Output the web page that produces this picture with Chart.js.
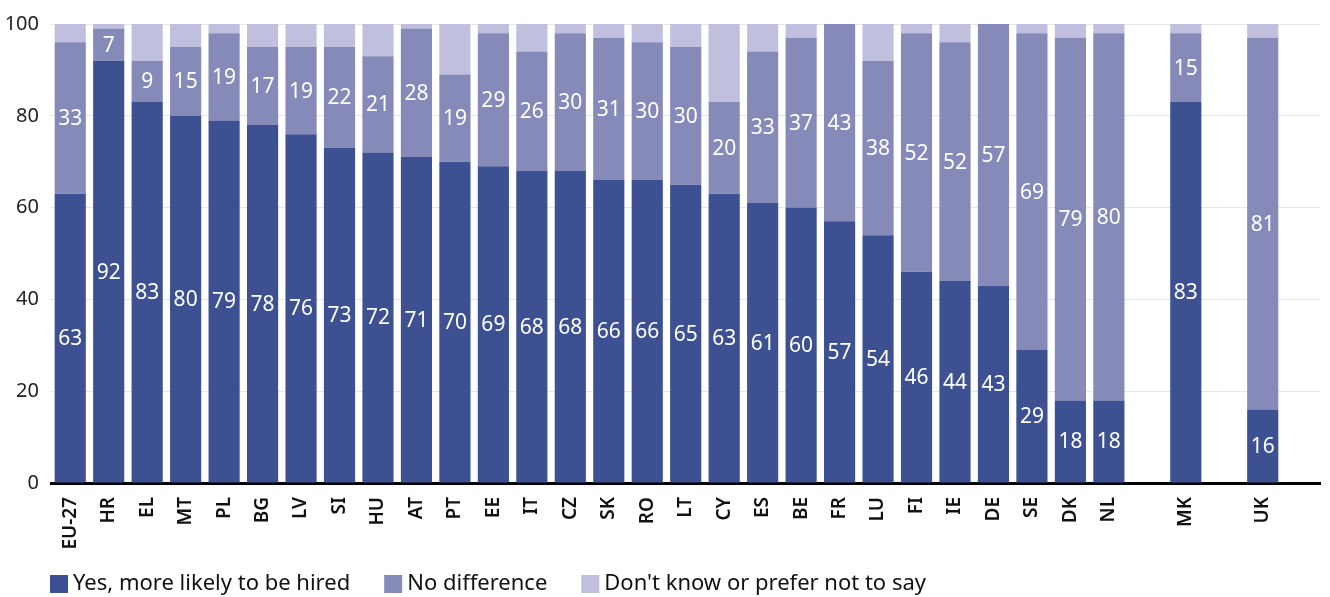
<!DOCTYPE html>
<html>
<head>
<meta charset="utf-8">
<script src="https://cdn.jsdelivr.net/npm/chart.js@4/dist/chart.umd.min.js"></script>
<style>
  html, body { margin: 0; padding: 0; background: #fff; }
  #wrap { width: 1330px; height: 597px; }
</style>
</head>
<body>
<div id="wrap"><canvas id="hired" width="1330" height="597"></canvas></div>
<script>
// countries, with empty slots before MK and UK and one after
let countries = ["EU-27","HR","EL","MT","PL","BG","LV","SI","HU","AT","PT","EE","IT","CZ","SK","RO",
  "LT","CY","ES","BE","FR","LU","FI","IE","DE","SE","DK","NL","","MK","","UK",""];
let yesHired = [63,92,83,80,79,78,76,73,72,71,70,69,68,68,66,66,65,63,61,60,57,54,46,44,43,29,18,18,null,83,null,16,null];
let noDiff   = [33,7,9,15,19,17,19,22,21,28,19,29,26,30,31,30,30,20,33,37,43,38,52,52,57,69,79,80,null,15,null,81,null];
let dontKnow = [4,1,8,5,2,5,5,5,7,1,11,2,6,2,3,4,5,17,6,3,0.6,8,2,4,0.5,2,3,2,null,2,null,3,null];
let yTicks = [0,20,40,60,80,100];

let colorYes = "rgb(61, 81, 146)";
let colorNo = "rgb(134, 138, 185)";
let colorDk = "rgb(192, 192, 222)";
let fontFamily = "'Noto Sans', 'Open Sans', sans-serif";

// white numbers in the middle of the first two segments
const segmentLabels = {
  id: "segmentLabels",
  afterDatasetsDraw(chart) {
    const ctx = chart.ctx;
    ctx.save();
    ctx.fillStyle = "#fff";
    ctx.font = "21px " + fontFamily;
    ctx.textAlign = "center";
    ctx.textBaseline = "middle";
    [0, 1].forEach(function(di) {
      const meta = chart.getDatasetMeta(di);
      meta.data.forEach(function(bar, i) {
        const v = chart.data.datasets[di].data[i];
        if (v == null) return;
        ctx.fillText(String(v), bar.x, (bar.y + bar.base) / 2 + 1);
      });
    });
    ctx.restore();
  }
};

// legend row along the bottom
const bottomLegend = {
  id: "bottomLegend",
  afterDraw(chart) {
    const ctx = chart.ctx;
    ctx.save();
    ctx.font = "22px " + fontFamily;
    ctx.textBaseline = "middle";
    let x = 50;
    const y = 584;
    chart.data.datasets.forEach(function(ds) {
      ctx.fillStyle = ds.backgroundColor;
      ctx.fillRect(x, y - 9, 18, 18);
      ctx.fillStyle = "#111";
      ctx.fillText(ds.label, x + 23, y);
      x += 23 + ctx.measureText(ds.label).width + 34;
    });
    ctx.restore();
  }
};

new Chart(document.getElementById("hired"), {
  type: "bar",
  data: {
    labels: countries,
    datasets: [
      { label: "Yes, more likely to be hired", data: yesHired, backgroundColor: colorYes },
      { label: "No difference", data: noDiff, backgroundColor: colorNo },
      { label: "Don't know or prefer not to say", data: dontKnow, backgroundColor: colorDk }
    ]
  },
  options: {
    responsive: false,
    animation: false,
    layout: { padding: { top: 20, right: 0, bottom: 44, left: 0 } },
    datasets: { bar: { barPercentage: 0.81, categoryPercentage: 1 } },
    plugins: {
      legend: { display: false },
      tooltip: { enabled: false }
    },
    scales: {
      x: {
        stacked: true,
        grid: { display: false },
        border: { color: "#000", width: 3 },
        ticks: {
          autoSkip: false,
          maxRotation: 90,
          minRotation: 90,
          padding: 6,
          color: "#111",
          font: { family: fontFamily, size: 19, weight: "600" }
        },
        afterFit: function(scale) { scale.height = 70; }
      },
      y: {
        stacked: true,
        min: 0,
        max: 100,
        afterBuildTicks: function(scale) { scale.ticks = yTicks.map(v => ({ value: v })); },
        grid: { color: "#e6e6e6", lineWidth: 1, drawTicks: false },
        border: { display: false },
        ticks: {
          padding: 12,
          color: "#222",
          font: { family: fontFamily, size: 20 }
        },
        afterFit: function(scale) { scale.width = 51; }
      }
    }
  },
  plugins: [segmentLabels, bottomLegend]
});
</script>
</body>
</html>
